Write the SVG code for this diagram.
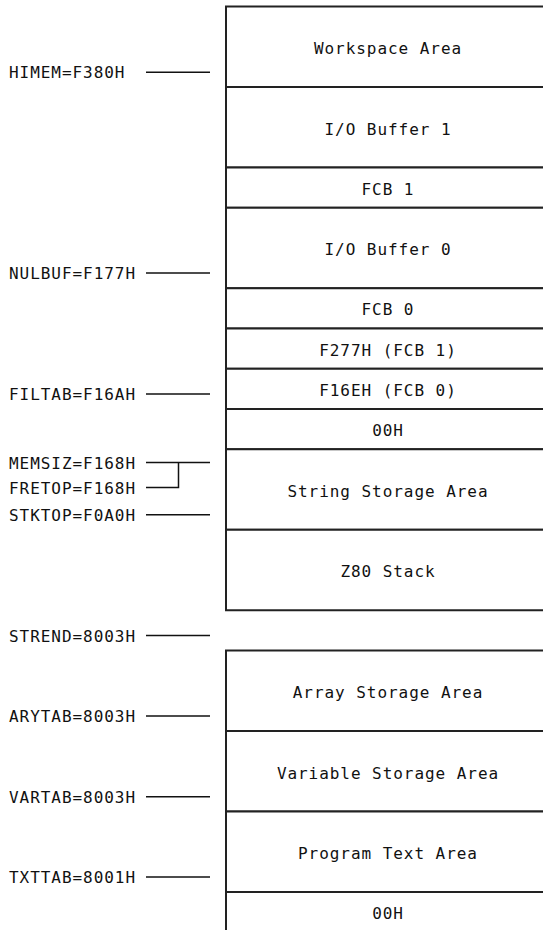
<svg xmlns="http://www.w3.org/2000/svg" width="543" height="930" viewBox="0 0 543 930">
<style>
  .cell { fill: #ffffff; stroke: #222222; stroke-width: 2; }
  .t { font-family: "DejaVu Sans Mono", "Liberation Mono", monospace; font-size: 16px; letter-spacing: 0.95px; fill: #111111; }
  .c { text-anchor: middle; }
  .lead { stroke: #111111; stroke-width: 1.5; fill: none; }
</style>
<rect width="543" height="930" fill="#ffffff"/>
<g id="memory-high">
  <g id="workspace"><rect class="cell" x="226" y="6.5" width="322" height="80.5"/><text class="t c" x="388" y="54">Workspace Area</text></g>
  <g id="iobuf1"><rect class="cell" x="226" y="87" width="322" height="80.5"/><text class="t c" x="388" y="134.5">I/O Buffer 1</text></g>
  <g id="fcb1"><rect class="cell" x="226" y="167.5" width="322" height="40.25"/><text class="t c" x="388" y="194.5">FCB 1</text></g>
  <g id="iobuf0"><rect class="cell" x="226" y="207.75" width="322" height="80.5"/><text class="t c" x="388" y="255">I/O Buffer 0</text></g>
  <g id="fcb0"><rect class="cell" x="226" y="288.25" width="322" height="40.25"/><text class="t c" x="388" y="315">FCB 0</text></g>
  <g id="f277h"><rect class="cell" x="226" y="328.5" width="322" height="40.25"/><text class="t c" x="388" y="355.5">F277H (FCB 1)</text></g>
  <g id="f16eh"><rect class="cell" x="226" y="368.75" width="322" height="40.25"/><text class="t c" x="388" y="395.5">F16EH (FCB 0)</text></g>
  <g id="zero1"><rect class="cell" x="226" y="409" width="322" height="40.25"/><text class="t c" x="388" y="436">00H</text></g>
  <g id="string"><rect class="cell" x="226" y="449.25" width="322" height="80.5"/><text class="t c" x="388" y="496.5">String Storage Area</text></g>
  <g id="stack"><rect class="cell" x="226" y="529.75" width="322" height="80.5"/><text class="t c" x="388" y="577">Z80 Stack</text></g>
</g>
<g id="memory-low">
  <g id="array"><rect class="cell" x="226" y="650.5" width="322" height="80.5"/><text class="t c" x="388" y="698">Array Storage Area</text></g>
  <g id="variable"><rect class="cell" x="226" y="731" width="322" height="80.5"/><text class="t c" x="388" y="778.5">Variable Storage Area</text></g>
  <g id="program"><rect class="cell" x="226" y="811.5" width="322" height="80.5"/><text class="t c" x="388" y="859">Program Text Area</text></g>
  <g id="zero2"><rect class="cell" x="226" y="892" width="322" height="60"/><text class="t c" x="388" y="919">00H</text></g>
</g>
<g id="labels">
  <text class="t" x="9" y="78">HIMEM=F380H</text>
  <text class="t" x="9" y="279">NULBUF=F177H</text>
  <text class="t" x="9" y="400">FILTAB=F16AH</text>
  <text class="t" x="9" y="468.5">MEMSIZ=F168H</text>
  <text class="t" x="9" y="493.5">FRETOP=F168H</text>
  <text class="t" x="9" y="520.5">STKTOP=F0A0H</text>
  <text class="t" x="9" y="641.5">STREND=8003H</text>
  <text class="t" x="9" y="722">ARYTAB=8003H</text>
  <text class="t" x="9" y="802.5">VARTAB=8003H</text>
  <text class="t" x="9" y="883">TXTTAB=8001H</text>
</g>
<g id="connectors">
  <line class="lead" x1="146" y1="72.25" x2="210" y2="72.25"/>
  <line class="lead" x1="146" y1="273" x2="210" y2="273"/>
  <line class="lead" x1="146" y1="394" x2="210" y2="394"/>
  <line class="lead" x1="146" y1="462.5" x2="210" y2="462.5"/>
  <polyline class="lead" points="146,487.5 178.5,487.5 178.5,462.5"/>
  <line class="lead" x1="146" y1="514.75" x2="210" y2="514.75"/>
  <line class="lead" x1="146" y1="635.5" x2="210" y2="635.5"/>
  <line class="lead" x1="146" y1="716" x2="210" y2="716"/>
  <line class="lead" x1="146" y1="796.75" x2="210" y2="796.75"/>
  <line class="lead" x1="146" y1="877" x2="210" y2="877"/>
</g>
</svg>
